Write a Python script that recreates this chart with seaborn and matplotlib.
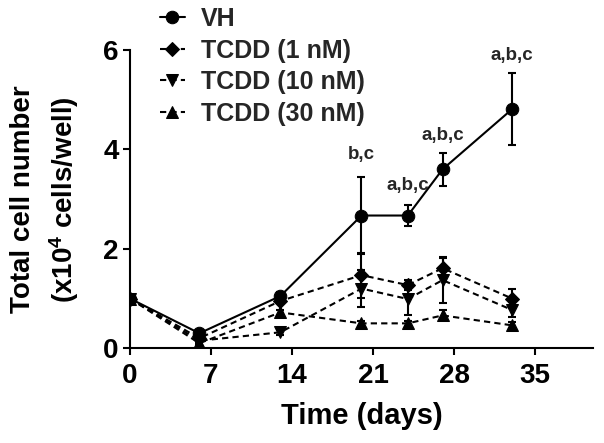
import matplotlib
matplotlib.use("Agg")
import matplotlib.pyplot as plt
import seaborn as sns
import numpy as np
import pandas as pd

sns.set_theme(style="ticks")
plt.rcParams['font.family'] = ['Liberation Sans', 'DejaVu Sans']
plt.rcParams['font.weight'] = 'bold'
plt.rcParams['mathtext.fontset'] = 'custom'
plt.rcParams['mathtext.rm'] = 'Liberation Sans:bold'
plt.rcParams['mathtext.bf'] = 'Liberation Sans:bold'
plt.rcParams['mathtext.default'] = 'bf'

# data
days = [0, 6, 13, 20, 24, 27, 33]
groups = ["VH", "TCDD (1 nM)", "TCDD (10 nM)", "TCDD (30 nM)"]
vh = [1.0, 0.30, 1.05, 2.67, 2.67, 3.60, 4.81]
tcdd_1 = [1.0, 0.20, 0.95, 1.47, 1.27, 1.61, 1.00]
tcdd_10 = [1.0, 0.15, 0.32, 1.20, 0.99, 1.37, 0.77]
tcdd_30 = [1.0, 0.10, 0.72, 0.50, 0.50, 0.66, 0.46]
vh_err = [0.05, 0.05, 0.08, 0.77, 0.21, 0.33, 0.73]
tcdd_1_err = [0.05, 0.05, 0.05, 0.45, 0.10, 0.20, 0.19]
tcdd_10_err = [0.05, 0.05, 0.05, 0.37, 0.33, 0.47, 0.15]
tcdd_30_err = [0.03, 0.03, 0.05, 0.05, 0.05, 0.10, 0.06]

sig_days = [20, 24, 27, 33]
sig_labels = ["b,c", "a,b,c", "a,b,c", "a,b,c"]
sig_y = [3.9, 3.28, 4.29, 5.9]

values = [vh, tcdd_1, tcdd_10, tcdd_30]
errors = [vh_err, tcdd_1_err, tcdd_10_err, tcdd_30_err]
df = pd.DataFrame({
    "day": days * 4,
    "count": np.concatenate(values),
    "err": np.concatenate(errors),
    "group": np.repeat(groups, len(days)),
})

markers = {"VH": "o", "TCDD (1 nM)": "D", "TCDD (10 nM)": "v", "TCDD (30 nM)": "^"}
msizes = {"VH": 9, "TCDD (1 nM)": 7, "TCDD (10 nM)": 8, "TCDD (30 nM)": 8}

fig = plt.figure(figsize=(6.04, 4.43), dpi=100)
ax = fig.add_axes([0.215, 0.214, 0.767, 0.673])

for g in groups:
    sub = df[df["group"] == g]
    ax.errorbar(sub["day"], sub["count"], yerr=sub["err"], fmt="none",
                ecolor="black", elinewidth=1.5, capsize=3, capthick=1.5, zorder=2)
    sns.lineplot(data=sub, x="day", y="count", color="black", marker=markers[g],
                 markersize=msizes[g], markeredgecolor="black", linewidth=1.5,
                 linestyle="-" if g == "VH" else (0, (3, 2)), label=g,
                 ax=ax, zorder=3)

for d, lab, y in zip(sig_days, sig_labels, sig_y):
    ax.text(d, y, lab, ha="center", va="center", fontsize=13.5, fontweight="bold",
            clip_on=False)

ax.set_xlim(0, 40)
ax.set_ylim(0, 6)
ax.set_xticks([0, 7, 14, 21, 28, 35])
ax.set_yticks([0, 2, 4, 6])
ax.tick_params(axis="both", labelsize=20, width=1.5, length=5, color="black",
               labelcolor="black", pad=3)
ax.tick_params(axis="x", pad=6)
for lbl in ax.get_xticklabels() + ax.get_yticklabels():
    lbl.set_fontweight("bold")
sns.despine(ax=ax)
for s in ["left", "bottom"]:
    ax.spines[s].set_linewidth(1.5)
    ax.spines[s].set_color("black")

ax.set_xlabel("Time (days)", fontsize=21, fontweight="bold", color="black", labelpad=9)
ax.set_ylabel("Total cell number\n(x10$^4$ cells/well)", fontsize=20,
              fontweight="bold", color="black", linespacing=1.45, labelpad=16)

h, l = ax.get_legend_handles_labels()
if ax.legend_:
    ax.legend_.remove()
fig.legend(h, l, loc="upper left", bbox_to_anchor=(0.24, 1.018), frameon=False,
           prop={"size": 18, "weight": "bold"}, handlelength=1.0,
           handletextpad=0.65, labelspacing=0.3, borderpad=0.1)

fig.savefig("out.png", dpi=100)
